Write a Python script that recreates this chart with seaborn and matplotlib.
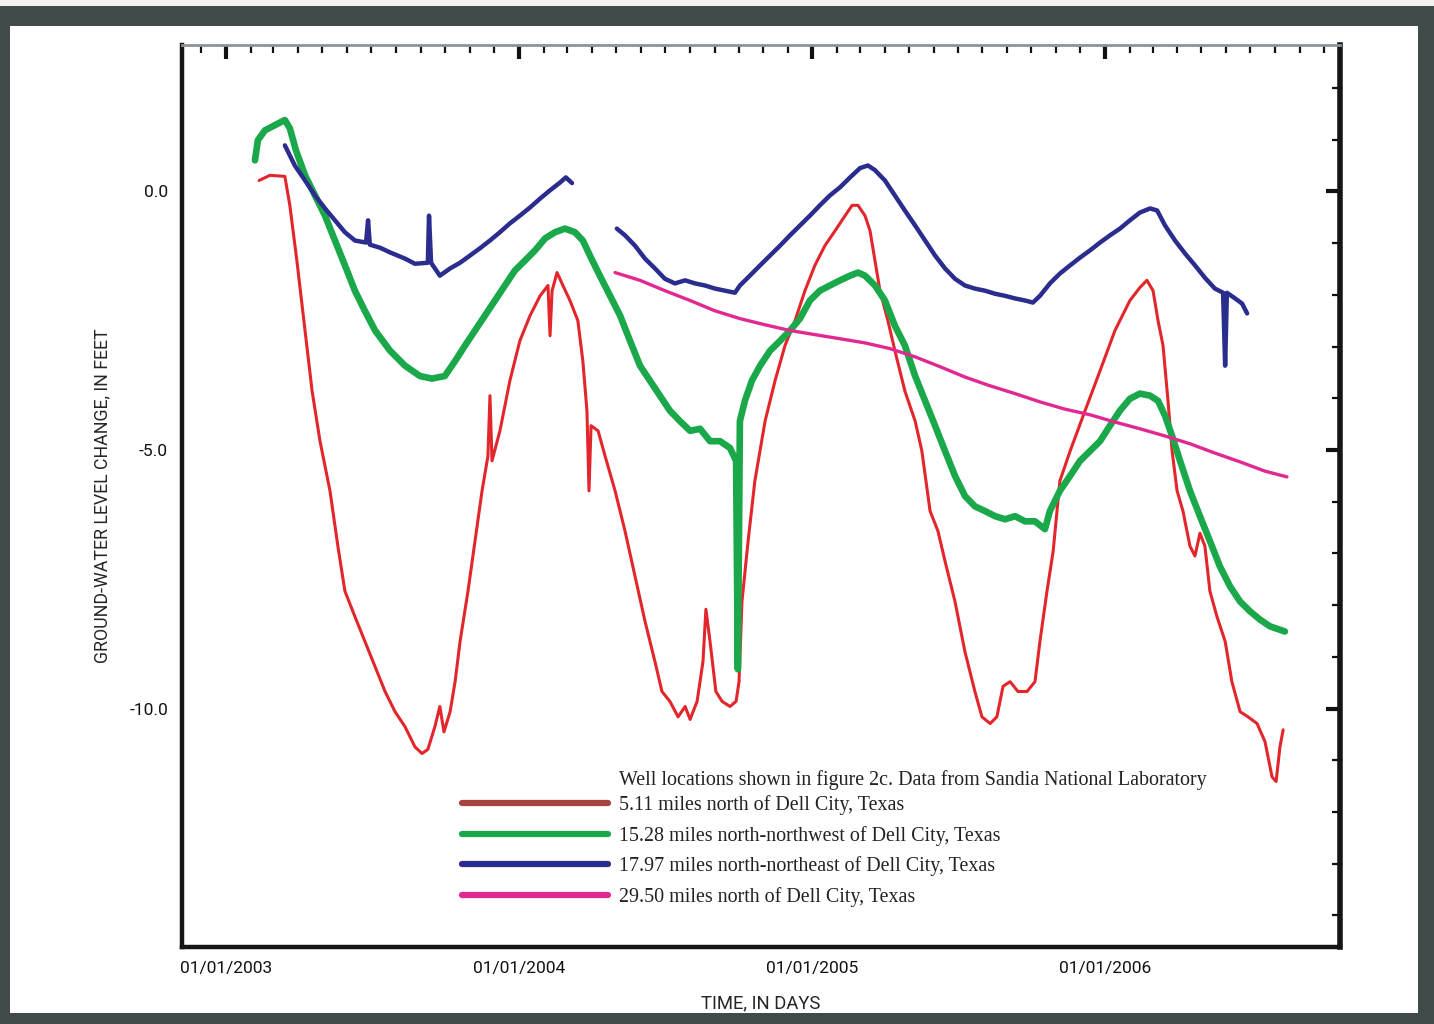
import numpy as np
import pandas as pd
import seaborn as sns
import matplotlib.pyplot as plt
import matplotlib.dates as mdates
from matplotlib.lines import Line2D
from matplotlib.patches import Rectangle

# Water level data (decimal year, feet)
red_yr = [2003.113, 2003.150, 2003.201, 2003.218, 2003.242, 2003.270, 2003.294, 2003.321, 2003.355, 2003.382,
          2003.406, 2003.440, 2003.474, 2003.509, 2003.543, 2003.577, 2003.611, 2003.645, 2003.669, 2003.689,
          2003.713, 2003.730, 2003.744, 2003.765, 2003.782, 2003.799, 2003.826, 2003.850, 2003.874, 2003.894,
          2003.901, 2003.908, 2003.935, 2003.969, 2004.003, 2004.038, 2004.072, 2004.099, 2004.106, 2004.113,
          2004.130, 2004.150, 2004.174, 2004.201, 2004.218, 2004.232, 2004.239, 2004.246, 2004.270, 2004.294,
          2004.328, 2004.362, 2004.396, 2004.430, 2004.464, 2004.488, 2004.515, 2004.543, 2004.567, 2004.584,
          2004.608, 2004.628, 2004.638, 2004.652, 2004.672, 2004.693, 2004.720, 2004.741, 2004.751, 2004.761,
          2004.782, 2004.805, 2004.840, 2004.874, 2004.908, 2004.942, 2004.976, 2005.010, 2005.044, 2005.079,
          2005.113, 2005.137, 2005.157, 2005.181, 2005.198, 2005.215, 2005.232, 2005.259, 2005.283, 2005.317,
          2005.352, 2005.375, 2005.403, 2005.430, 2005.454, 2005.488, 2005.522, 2005.556, 2005.580, 2005.608,
          2005.631, 2005.652, 2005.676, 2005.703, 2005.734, 2005.761, 2005.778, 2005.802, 2005.823, 2005.846,
          2005.881, 2005.932, 2005.983, 2006.034, 2006.085, 2006.119, 2006.143, 2006.164, 2006.181, 2006.198,
          2006.215, 2006.229, 2006.246, 2006.266, 2006.290, 2006.307, 2006.324, 2006.341, 2006.358, 2006.382,
          2006.410, 2006.433, 2006.461, 2006.488, 2006.519, 2006.546, 2006.570, 2006.584, 2006.597, 2006.608]
red_ft = [0.21, 0.31, 0.29, -0.27, -1.34, -2.69, -3.86, -4.83, -5.79, -6.86,
          -7.73, -8.22, -8.70, -9.19, -9.67, -10.06, -10.35, -10.74, -10.87, -10.79,
          -10.35, -9.96, -10.45, -10.06, -9.48, -8.70, -7.73, -6.76, -5.79, -5.12,
          -3.95, -5.21, -4.63, -3.66, -2.89, -2.40, -2.02, -1.82, -2.79, -1.92,
          -1.57, -1.82, -2.11, -2.50, -3.28, -4.24, -5.79, -4.53, -4.63, -5.12,
          -5.79, -6.57, -7.44, -8.31, -9.09, -9.67, -9.86, -10.16, -9.96, -10.21,
          -9.86, -9.09, -8.08, -8.70, -9.67, -9.86, -9.96, -9.86, -9.48, -7.93,
          -6.76, -5.60, -4.44, -3.66, -2.98, -2.50, -1.92, -1.43, -1.05, -0.76,
          -0.47, -0.27, -0.27, -0.47, -0.76, -1.34, -1.92, -2.50, -3.08, -3.86,
          -4.44, -5.02, -6.18, -6.57, -7.15, -7.93, -8.90, -9.67, -10.16, -10.29,
          -10.16, -9.57, -9.48, -9.67, -9.67, -9.48, -8.70, -7.73, -6.96, -5.60,
          -5.02, -4.24, -3.47, -2.69, -2.11, -1.86, -1.72, -1.92, -2.50, -2.98,
          -4.05, -5.02, -5.79, -6.18, -6.86, -7.05, -6.61, -6.86, -7.73, -8.22,
          -8.70, -9.48, -10.06, -10.16, -10.29, -10.64, -11.32, -11.41, -10.74, -10.41]

green_yr = [2003.099, 2003.109, 2003.133, 2003.167, 2003.201, 2003.218, 2003.239, 2003.270, 2003.304, 2003.338,
            2003.372, 2003.406, 2003.440, 2003.474, 2003.509, 2003.560, 2003.611, 2003.662, 2003.703, 2003.747,
            2003.782, 2003.816, 2003.850, 2003.884, 2003.918, 2003.952, 2003.986, 2004.020, 2004.055, 2004.089,
            2004.123, 2004.157, 2004.191, 2004.218, 2004.242, 2004.276, 2004.311, 2004.345, 2004.379, 2004.413,
            2004.447, 2004.481, 2004.515, 2004.549, 2004.584, 2004.618, 2004.652, 2004.686, 2004.720, 2004.741,
            2004.747, 2004.754, 2004.771, 2004.795, 2004.823, 2004.857, 2004.891, 2004.925, 2004.959, 2004.993,
            2005.027, 2005.061, 2005.096, 2005.130, 2005.157, 2005.181, 2005.215, 2005.249, 2005.283, 2005.317,
            2005.352, 2005.386, 2005.420, 2005.454, 2005.488, 2005.522, 2005.556, 2005.590, 2005.625, 2005.659,
            2005.693, 2005.727, 2005.761, 2005.795, 2005.812, 2005.846, 2005.881, 2005.915, 2005.949, 2005.983,
            2006.017, 2006.051, 2006.085, 2006.119, 2006.154, 2006.181, 2006.205, 2006.229, 2006.256, 2006.290,
            2006.324, 2006.358, 2006.392, 2006.427, 2006.461, 2006.495, 2006.529, 2006.563, 2006.614]
green_ft = [0.60, 0.99, 1.18, 1.28, 1.38, 1.22, 0.79, 0.31, -0.08, -0.47,
            -0.95, -1.43, -1.92, -2.31, -2.69, -3.08, -3.37, -3.57, -3.62, -3.57,
            -3.28, -2.98, -2.69, -2.40, -2.11, -1.82, -1.53, -1.34, -1.14, -0.91,
            -0.79, -0.72, -0.79, -0.95, -1.24, -1.63, -2.02, -2.40, -2.89, -3.37,
            -3.66, -3.95, -4.24, -4.44, -4.63, -4.59, -4.83, -4.83, -4.96, -5.21,
            -9.24, -4.44, -4.05, -3.66, -3.37, -3.08, -2.89, -2.69, -2.46, -2.11,
            -1.92, -1.82, -1.72, -1.63, -1.57, -1.63, -1.82, -2.11, -2.60, -2.98,
            -3.57, -4.05, -4.53, -5.02, -5.50, -5.89, -6.09, -6.18, -6.28, -6.34,
            -6.28, -6.38, -6.38, -6.53, -6.18, -5.79, -5.50, -5.21, -5.02, -4.83,
            -4.53, -4.24, -4.01, -3.91, -3.95, -4.05, -4.34, -4.73, -5.21, -5.79,
            -6.28, -6.76, -7.25, -7.64, -7.93, -8.12, -8.28, -8.41, -8.51]

blue1_yr = [2003.201, 2003.235, 2003.270, 2003.304, 2003.338, 2003.372, 2003.406, 2003.440, 2003.478, 2003.485,
            2003.491, 2003.526, 2003.560, 2003.611, 2003.645, 2003.689, 2003.693, 2003.700, 2003.730, 2003.765,
            2003.799, 2003.833, 2003.867, 2003.901, 2003.935, 2003.969, 2004.003, 2004.038, 2004.072, 2004.106,
            2004.140, 2004.160, 2004.181]
blue1_ft = [0.89, 0.50, 0.21, -0.08, -0.33, -0.56, -0.79, -0.95, -0.99, -0.56,
            -1.03, -1.09, -1.18, -1.30, -1.40, -1.38, -0.47, -1.38, -1.63, -1.49,
            -1.38, -1.24, -1.10, -0.95, -0.79, -0.62, -0.47, -0.31, -0.14, 0.02,
            0.17, 0.27, 0.16]
blue2_yr = [2004.334, 2004.362, 2004.396, 2004.430, 2004.464, 2004.498, 2004.532, 2004.567, 2004.601, 2004.635,
            2004.669, 2004.703, 2004.737, 2004.754, 2004.788, 2004.823, 2004.857, 2004.891, 2004.925, 2004.959,
            2004.993, 2005.027, 2005.061, 2005.096, 2005.130, 2005.164, 2005.191, 2005.215, 2005.249, 2005.283,
            2005.317, 2005.352, 2005.386, 2005.420, 2005.454, 2005.488, 2005.522, 2005.556, 2005.590, 2005.625,
            2005.659, 2005.693, 2005.727, 2005.754, 2005.778, 2005.812, 2005.846, 2005.881, 2005.915, 2005.949,
            2005.983, 2006.017, 2006.051, 2006.085, 2006.119, 2006.154, 2006.178, 2006.205, 2006.239, 2006.273,
            2006.307, 2006.341, 2006.375, 2006.403, 2006.410, 2006.416, 2006.444, 2006.468, 2006.485]
blue2_ft = [-0.72, -0.85, -1.05, -1.30, -1.49, -1.69, -1.78, -1.72, -1.78, -1.82,
            -1.88, -1.92, -1.96, -1.82, -1.63, -1.43, -1.24, -1.05, -0.85, -0.66,
            -0.47, -0.27, -0.08, 0.08, 0.27, 0.45, 0.50, 0.41, 0.21, -0.08,
            -0.37, -0.66, -0.95, -1.24, -1.49, -1.69, -1.82, -1.88, -1.92, -1.98,
            -2.02, -2.07, -2.11, -2.15, -2.02, -1.78, -1.59, -1.43, -1.28, -1.14,
            -0.99, -0.85, -0.72, -0.56, -0.41, -0.33, -0.37, -0.66, -0.95, -1.20,
            -1.43, -1.67, -1.88, -1.96, -3.37, -1.96, -2.07, -2.17, -2.36]

pink_yr = [2004.328, 2004.413, 2004.498, 2004.584, 2004.669, 2004.754, 2004.840, 2004.925, 2005.010, 2005.096,
           2005.181, 2005.266, 2005.352, 2005.437, 2005.522, 2005.608, 2005.693, 2005.778, 2005.863, 2005.949,
           2006.034, 2006.119, 2006.205, 2006.290, 2006.375, 2006.461, 2006.546, 2006.621]
pink_ft = [-1.57, -1.72, -1.92, -2.11, -2.31, -2.46, -2.58, -2.69, -2.77, -2.85,
           -2.93, -3.04, -3.20, -3.39, -3.59, -3.76, -3.91, -4.07, -4.21, -4.32,
           -4.46, -4.59, -4.73, -4.88, -5.06, -5.23, -5.41, -5.52]

legend_labels = ['5.11 miles north of Dell City, Texas',
                 '15.28 miles north-northwest of Dell City, Texas',
                 '17.97 miles north-northeast of Dell City, Texas',
                 '29.50 miles north of Dell City, Texas']
note = 'Well locations shown in figure 2c. Data from Sandia National Laboratory'


def to_dates(yrs):
    return pd.Timestamp('2003-01-01') + pd.to_timedelta((np.array(yrs) - 2003) * 365.25, unit='D')


sns.set_style('white')
plt.rcParams['font.family'] = ['Roboto', 'DejaVu Sans']

fig = plt.figure(figsize=(14.34, 10.24), dpi=100)
fig.patch.set_facecolor('#3f4a4b')
# white page inside the dark frame
fig.patches.append(Rectangle((10 / 1434, 1 - 1013 / 1024), 1408 / 1434, 987 / 1024,
                             transform=fig.transFigure, facecolor='white', edgecolor='none', zorder=-10))
fig.patches.append(Rectangle((0, 1 - 6 / 1024), 1, 6 / 1024,
                             transform=fig.transFigure, facecolor='#f4f2ec', edgecolor='none', zorder=-10))

ax = fig.add_axes([182 / 1434, 1 - 947 / 1024, 1158 / 1434, 902 / 1024])
ax.set_facecolor('none')

series = [
    (red_yr, red_ft, '#e3262b', 2.2),
    (green_yr, green_ft, '#1aa84b', 4.8),
    (blue1_yr, blue1_ft, '#2b2d8e', 3.2),
    (blue2_yr, blue2_ft, '#2b2d8e', 3.2),
    (pink_yr, pink_ft, '#e12a91', 2.4),
]
for yrs, ft, col, lw in series:
    sns.lineplot(x=to_dates(yrs), y=ft, ax=ax, color=col, linewidth=lw, estimator=None, sort=False)

ax.set_xlim(to_dates([2002.850])[0], to_dates([2006.802])[0])
ax.set_ylim(-14.61, 2.83)

ax.xaxis.set_major_locator(mdates.YearLocator())
ax.xaxis.set_major_formatter(mdates.DateFormatter('%m/%d/%Y'))
ax.xaxis.set_minor_locator(mdates.MonthLocator())
ax.yaxis.set_major_locator(plt.FixedLocator([0, -5, -10]))
ax.yaxis.set_major_formatter(plt.FuncFormatter(lambda v, p: f'{v:.1f}'))
ax.yaxis.set_minor_locator(plt.MultipleLocator(1))

ax.tick_params(which='both', direction='in', top=True, right=True, colors='#111111')
ax.tick_params(which='major', length=10, width=3, labelsize=12.5, pad=10)
ax.tick_params(which='minor', length=6, width=1.6)

for side in ['left', 'bottom', 'right']:
    ax.spines[side].set_color('#151515')
    ax.spines[side].set_linewidth(3.2)
ax.spines['right'].set_linewidth(4)
ax.spines['top'].set_color('#8d9398')
ax.spines['top'].set_linewidth(2)

ax.set_xlabel('TIME, IN DAYS', fontsize=13.3, labelpad=13)
ax.set_ylabel('GROUND-WATER LEVEL CHANGE, IN FEET', fontsize=12.8, labelpad=13)

handle_cols = ['#a8423c', '#1aa84b', '#2b2d8e', '#e12a91']
handles = [Line2D([], [], color=c, linewidth=4.5) for c in handle_cols]
leg = ax.legend(handles, legend_labels, loc='upper left', bbox_to_anchor=(462 / 1434, 1 - 795 / 1024),
                bbox_transform=fig.transFigure, frameon=False, borderpad=0, borderaxespad=0,
                handlelength=7.3, handletextpad=0.55, labelspacing=0.54,
                prop={'family': 'Liberation Serif', 'size': 14.4})
for t in leg.get_texts():
    t.set_color('#222222')
fig.text(619 / 1434, 1 - 780 / 1024, note, va='center', ha='left', color='#222222',
         family='Liberation Serif', fontsize=14.4)

plt.savefig('out.png', dpi=100, facecolor=fig.get_facecolor())
